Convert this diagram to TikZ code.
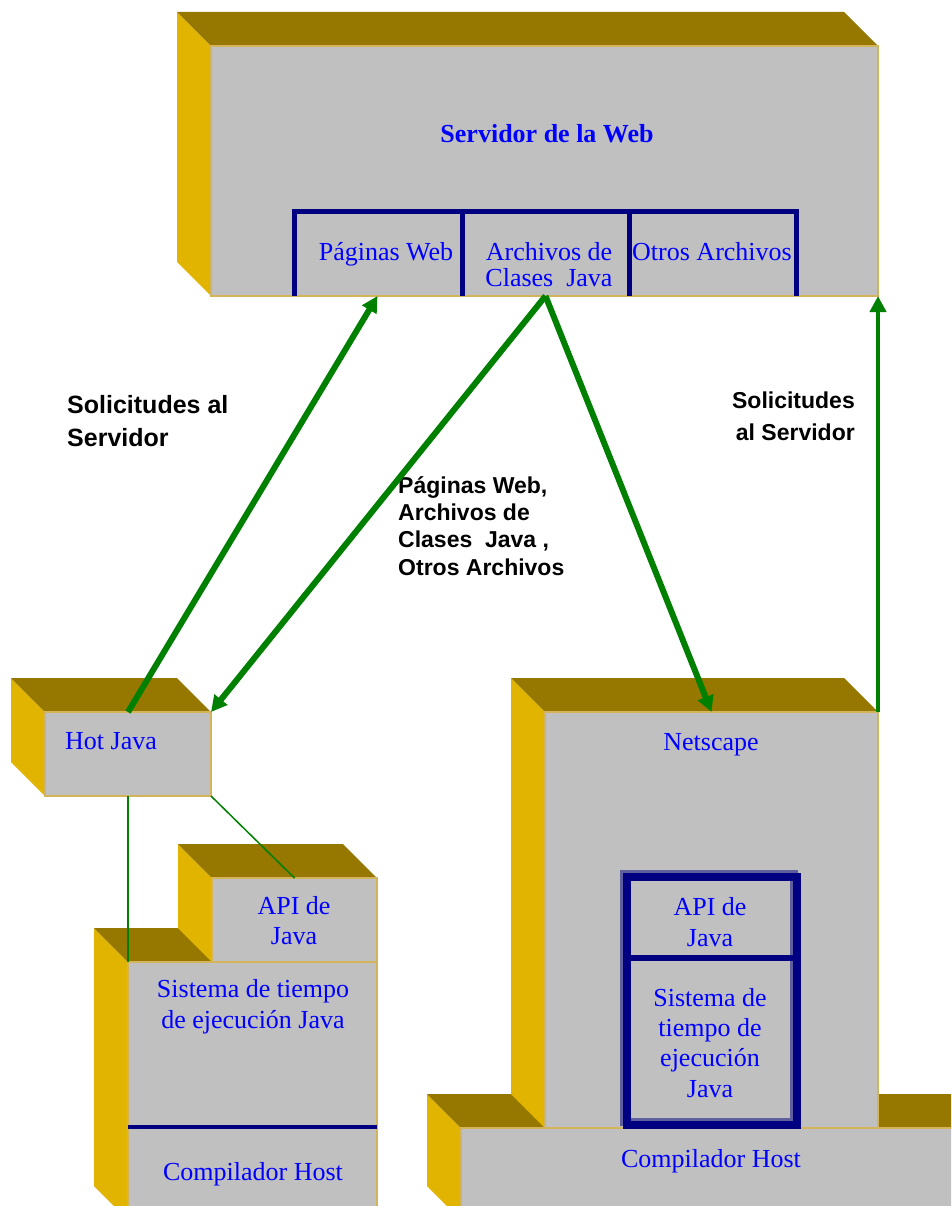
\documentclass[tikz,border=0pt]{standalone}
\usepackage{fontspec}
\setmainfont{Liberation Serif}
\newfontfamily\arial{Liberation Sans}
\usetikzlibrary{arrows.meta}

\definecolor{techo}{RGB}{150,120,0}
\definecolor{lado}{RGB}{224,180,0}
\definecolor{plata}{RGB}{192,192,192}
\definecolor{borde}{RGB}{212,180,90}
\definecolor{verde}{RGB}{0,128,0}
\definecolor{marino}{RGB}{0,0,128}
\definecolor{sombra}{RGB}{95,95,160}
\definecolor{azul}{RGB}{0,0,255}

\tikzset{
  cara/.style={draw=borde, fill=plata, line width=1.5pt, anchor=north west,
    inner sep=0pt, outer sep=0pt},
  celda/.style={anchor=north west, inner sep=0pt, outer sep=0pt},
  texto/.style={text=azul, align=center, inner sep=0pt, anchor=base},
  rotulo/.style={inner sep=0pt},
  flecha/.style={verde, line width=6pt, -{Triangle[length=16pt,width=16pt]}},
  enlace/.style={verde, line width=1.5pt},
  marco/.style={marino, line width=5pt}
}

\begin{document}
\begin{tikzpicture}[x=1pt,y=-1pt]
  \useasboundingbox (0,0) rectangle (951,1206);
  \clip (0,0) rectangle (951,1206);

  % cajas con relieve, de atras hacia delante
  \foreach \n/\x/\y/\w/\h in {servidor/211/46/667/250, hotjava/45/712/166/84,
      sistema/128/962/249/258, apiizq/212/878/165/84,
      base/461/1128/540/92, netscape/545/712/333/416} {
    \fill[lado] (\x,\y) -- ++(-34,-34) -- ++(0,\h) -- ++(34,34) -- cycle;
    \fill[techo] (\x,\y) -- ++(-34,-34) -- ++(\w,0) -- ++(34,34) -- cycle;
    \node[cara, minimum width=\w pt, minimum height=\h pt] (\n) at (\x,\y) {};
  }

  % compartimentos del servidor
  \foreach \n/\x in {paginas/294, clases/462, otros/629}
    \node[celda, minimum width=167pt, minimum height=84pt] (\n) at (\x,212) {};
  \draw[marco] (paginas.south west) |- (otros.north east) -- (otros.south east);
  \draw[marco] (clases.north west) -- (clases.south west)
    (clases.north east) -- (clases.south east);

  % compilador de Hot Java
  \node[celda, minimum width=249pt, minimum height=79pt] (compizq) at (128,1127) {};
  \draw[marino, line width=3.5pt] (compizq.north west) -- (compizq.north east);

  % API y sistema dentro de Netscape
  \node[celda, minimum width=170pt, minimum height=81pt] (apider) at (627,877) {};
  \node[celda, minimum width=170pt, minimum height=167pt] (sisder) at (627,958) {};
  \draw[sombra, line width=8pt] ([shift={(-3,-3)}]apider.north west)
    rectangle ([shift={(-3,-3)}]sisder.south east);
  \draw[marino, line width=8pt] (apider.north west) rectangle (sisder.south east);
  \draw[marino, line width=6pt] (apider.south west) -- (apider.south east);

  % textos
  \node[texto, font=\bfseries\fontsize{26}{31}\selectfont] (tservidor) at (547,143)
    {Servidor de la Web};
  \node[texto, font=\fontsize{26}{31}\selectfont] (tpaginas) at (386,260) {Páginas Web};
  \node[texto, font=\fontsize{26}{26}\selectfont] (tclases) at (549,286)
    {Archivos de\\Clases~ Java};
  \node[texto, font=\fontsize{26}{31}\selectfont] (totros) at (712,260) {Otros Archivos};
  \node[texto, font=\fontsize{26}{31}\selectfont, anchor=base west] (thotjava) at (65,749)
    {Hot Java};
  \node[texto, font=\fontsize{26}{30}\selectfont] (tapiizq) at (294,944) {API de\\Java};
  \node[texto, font=\fontsize{26}{31}\selectfont] (tsistema) at (253,1028)
    {Sistema de tiempo\\de ejecución Java};
  \node[texto, font=\fontsize{26}{31}\selectfont] (tcompizq) at (253,1180) {Compilador Host};
  \node[texto, font=\fontsize{26}{31}\selectfont] (tnetscape) at (711,750) {Netscape};
  \node[texto, font=\fontsize{26}{31}\selectfont] (tapider) at (710,946) {API de\\Java};
  \node[texto, font=\fontsize{26}{30.3}\selectfont] (tsisder) at (710,1097)
    {Sistema de\\tiempo de\\ejecución\\Java};
  \node[texto, font=\fontsize{26}{31}\selectfont] (tcompder) at (711,1167) {Compilador Host};

  \node[rotulo, font=\arial\bfseries\fontsize{25}{33}\selectfont, align=left,
    anchor=base west] (tsolizq) at (67,446) {Solicitudes al\\Servidor};
  \node[rotulo, font=\arial\bfseries\fontsize{23}{27.3}\selectfont, align=left,
    anchor=base west] (tarchivos) at (398,575)
    {Páginas Web,\\Archivos de\\Clases~ Java ,\\Otros Archivos};
  \node[rotulo, font=\arial\bfseries\fontsize{23}{32}\selectfont, align=right,
    anchor=base east] (tsolder) at (855,440) {Solicitudes\\al Servidor};

  % conexiones
  \draw[flecha] (hotjava.north) -- (paginas.south);
  \draw[flecha] (clases.south) -- (hotjava.north east);
  \draw[flecha] (clases.south) -- (netscape.north);
  \draw[flecha, line width=4pt] (netscape.north east) -- (servidor.south east);
  \draw[enlace] (hotjava.south) -- (sistema.north west);
  \draw[enlace] (hotjava.south east) -- (apiizq.north);
\end{tikzpicture}
\end{document}
